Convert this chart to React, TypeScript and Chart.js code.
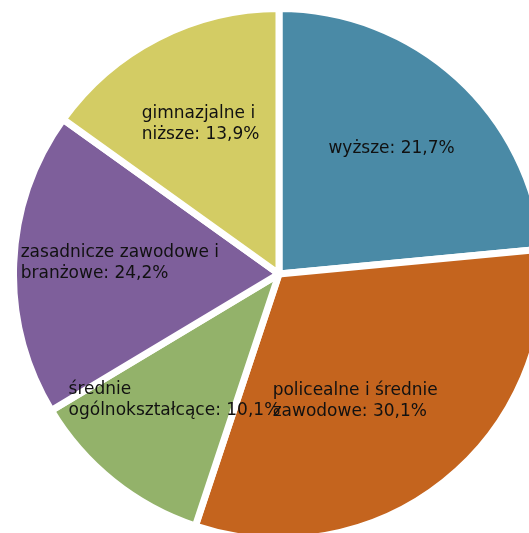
import { useEffect, useRef } from "react";
import { Chart, registerables } from "chart.js";

Chart.register(...registerables);

// Categories (line breaks mark where the label text wraps)
const categories = [
  "wyższe",
  "policealne i średnie\nzawodowe",
  "średnie\nogólnokształcące",
  "zasadnicze zawodowe i\nbranżowe",
  "gimnazjalne i\nniższe",
];
// Slice sizes as drawn in the picture (share of the circle, %)
const sliceShares = [23.5, 31.6, 11.3, 18.5, 15.1];
// Percentages printed in the data labels
const labelPercents = ["21,7%", "30,1%", "10,1%", "24,2%", "13,9%"];
const sliceColors = ["#4a8aa6", "#c4641e", "#93b26a", "#7e5f9b", "#d3cc64"];

const labelPlugin = {
  id: "sliceLabels",
  afterDatasetsDraw(chart: any, _args: any, opts: any) {
    const meta = chart.getDatasetMeta(0);
    const ctx = chart.ctx as CanvasRenderingContext2D;
    ctx.save();
    ctx.font = opts.font;
    ctx.fillStyle = opts.color;
    ctx.textBaseline = "middle";
    ctx.textAlign = "left";
    meta.data.forEach((arc: any, i: number) => {
      const p = arc.getProps(["x", "y", "startAngle", "endAngle", "outerRadius"], true);
      const mid = (p.startAngle + p.endAngle) / 2;
      const r = p.outerRadius * opts.radiusFraction;
      const nudge = opts.nudges[i] || [0, 0];
      const cx = p.x + Math.cos(mid) * r + nudge[0];
      const cy = p.y + Math.sin(mid) * r + nudge[1];
      const lines = (categories[i] + ": " + labelPercents[i]).split("\n");
      const w = Math.max(...lines.map((l) => ctx.measureText(l).width));
      lines.forEach((l, j) => {
        ctx.fillText(l, cx - w / 2, cy + (j - (lines.length - 1) / 2) * opts.lineHeight);
      });
    });
    ctx.restore();
  },
};

export default function App() {
  const ref = useRef<HTMLCanvasElement>(null);
  useEffect(() => {
    if (!ref.current) return;
    const chart = new Chart(ref.current, {
      type: "pie",
      data: {
        labels: categories,
        datasets: [
          {
            data: sliceShares,
            backgroundColor: sliceColors,
            borderColor: "#ffffff",
            borderWidth: 7,
          },
        ],
      },
      options: {
        responsive: false,
        animation: false,
        layout: { padding: 0 },
        plugins: {
          legend: { display: false },
          tooltip: { enabled: false },
          sliceLabels: {
            font: "17px 'DejaVu Sans'",
            color: "#111111",
            lineHeight: 21,
            radiusFraction: 0.63,
            nudges: [[0, -2], [-28, -4], [0, -4], [8, -4], [-2, -1]],
          },
        } as any,
      },
      plugins: [labelPlugin],
    });
    return () => chart.destroy();
  }, []);
  return (
    <div style={{ position: "fixed", left: 0, top: 0, width: "100vw", height: "100vh", overflow: "hidden", background: "#fff" }}>
      <canvas
        ref={ref}
        width={538}
        height={538}
        style={{ position: "absolute", left: 10, top: 5, width: 538, height: 538 }}
      />
    </div>
  );
}
